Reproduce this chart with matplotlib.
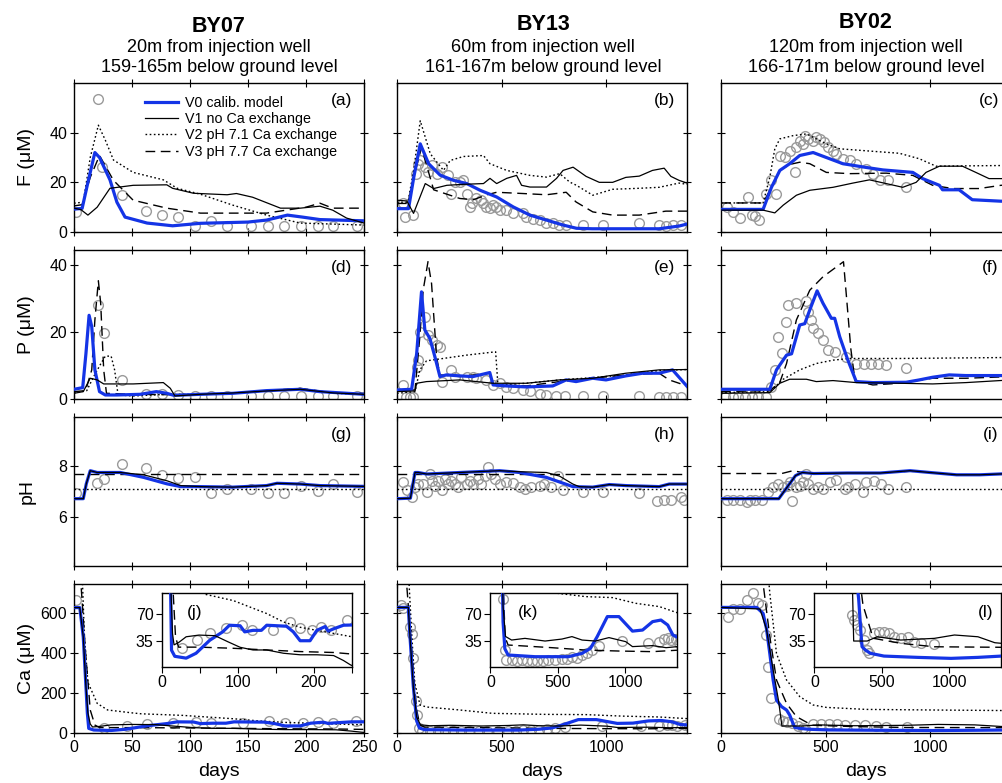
import numpy as np
import matplotlib.pyplot as plt

plt.rcParams['font.family'] = ['Liberation Sans', 'DejaVu Sans']

# ---- data: (day, value) pairs ----
# BY07 (20 m) -----------------------------------------------------
f07_v0 = [(0, 9.2), (7, 9.5), (12, 20), (18, 32), (22, 30), (31, 21), (37, 12), (44, 6), (63, 3.6),
          (85, 2.5), (109, 3.5), (150, 4), (166, 4.8), (184, 6.8), (197, 6), (212, 5), (250, 4.5)]
f07_v1 = [(0, 9.6), (6, 9), (12, 6.8), (20, 10), (31, 17.6), (51, 18.8), (80, 19), (85, 17.6), (103, 15.6),
          (132, 15), (140, 15.5), (154, 14), (178, 9.6), (195, 9.6), (212, 10.4), (223, 8.8), (235, 5.6), (250, 3.6)]
f07_v2 = [(0, 11.6), (8, 12), (14, 30), (21, 43), (27, 37), (34, 29), (51, 24), (77, 21), (89, 17.6),
          (109, 15.2), (137, 10.8), (166, 6.8), (195, 3.6), (250, 2.8)]
f07_v3 = [(0, 10.5), (7, 11), (14, 22), (22, 30.8), (34, 20.8), (51, 12.8), (80, 9.6), (109, 7.6),
          (166, 7.6), (200, 10), (212, 11.6), (223, 9.6), (250, 9.6)]
f07_obs = [(2, 8), (21, 53.5), (24, 26), (41, 15), (62, 8.4), (76, 7), (90, 6), (104, 2.4), (118, 4.4),
           (132, 2.5), (153, 2.5), (167, 2.5), (181, 2.5), (196, 2.4), (210, 2.4), (223, 2.4), (244, 2.4)]

p07_v0 = [(0, 2.9), (7.5, 3.4), (10.3, 13.6), (13, 25), (15.3, 21.6), (18, 8.7), (22, 2.2), (27, 1.2),
          (37, 1.2), (57, 1.4), (71, 2.2), (80, 1.7), (86, 1.1), (109, 1.4), (137, 1.7), (166, 2.5),
          (195, 2.9), (212, 2.2), (250, 1.4)]
p07_v1 = [(0, 1.7), (8, 2.2), (14, 6.2), (20, 5.7), (25.6, 4.5), (51, 4.5), (77, 4.9), (83, 3.2),
          (87, 0.9), (109, 1.4), (137, 1.8), (166, 2.4), (195, 2.9), (224, 1.8), (250, 1.4)]
p07_v2 = [(0, 1.8), (11, 2.5), (17, 6.7), (22.4, 10.1), (27, 12.8), (32, 12.8), (35, 8.7), (38, 1.2),
          (51, 0.9), (80, 1.4), (109, 1.4), (137, 1.8), (166, 2.4), (195, 3.1), (224, 1.7), (250, 1.4)]
p07_v3 = [(0, 2.2), (10, 2.5), (15.3, 8.7), (18, 23.6), (21, 35.3), (23, 28.6), (25.6, 8.7), (28, 1.7),
          (51, 1.4), (80, 1.3), (109, 1.4), (137, 1.8), (166, 2.5), (195, 3.2), (224, 1.8), (250, 1.7)]
p07_obs = [(21, 28), (26, 19.6), (41, 5.7), (62, 1.5), (76, 1.5), (90, 1.2), (104, 0.9), (118, 0.9),
           (132, 0.9), (153, 0.9), (167, 0.9), (181, 0.9), (196, 0.9), (210, 0.9), (223, 0.9), (244, 0.9)]

ph07_v0 = [(0, 6.72), (8, 6.72), (10.6, 7.3), (14, 7.81), (20, 7.74), (40, 7.74), (60, 7.55), (80, 7.3),
           (92, 7.19), (109, 7.19), (137, 7.17), (166, 7.23), (175, 7.32), (195, 7.29), (212, 7.23), (250, 7.2)]
ph07_v1 = [(0, 6.72), (8, 6.72), (10.6, 7.3), (14, 7.81), (20, 7.74), (40, 7.74), (60, 7.65), (80, 7.42),
           (92, 7.23), (109, 7.19), (137, 7.17), (166, 7.23), (175, 7.32), (195, 7.29), (212, 7.23), (250, 7.2)]
ph07_v2 = [(0, 7.1), (250, 7.1)]
ph07_v3 = [(0, 7.7), (250, 7.7)]
ph07_obs = [(2, 6.94), (20, 7.33), (26, 7.49), (41, 8.06), (62, 7.91), (76, 7.65), (90, 7.53), (104, 7.55),
            (118, 6.95), (132, 7.1), (153, 7.1), (167, 6.94), (181, 6.94), (196, 7.23), (210, 7.01),
            (223, 7.3), (244, 6.97)]

ca07_v0 = [(0, 627), (5, 627), (8, 480), (10.3, 232), (11.5, 100), (12.7, 23), (17, 15), (32, 12.6),
           (45, 19), (63, 36), (80, 47), (89, 55.7), (103, 55), (109, 47), (120, 49), (131, 49), (138, 55.7),
           (164, 54.4), (173, 47), (182, 35.4), (195, 35.4), (204, 49), (215, 54), (219, 48), (226, 51),
           (239, 55.7), (250, 56)]
ca07_v1 = [(0, 627), (5, 627), (8, 480), (10.3, 232), (12, 100), (14, 45), (16, 30), (22, 33), (32, 40.6),
           (49, 42.8), (70, 42), (87, 34), (103, 26.8), (120, 23.3), (138, 23.3), (160, 19), (182, 17),
           (204, 17), (226, 16), (239, 9.5), (248, 3.9), (250, 3)]
ca07_v2 = [(0, 950), (7, 800), (9, 480), (12, 253), (20, 148), (29, 115), (51, 100), (58, 96), (94, 88),
           (138, 71), (160, 60), (182, 53), (204, 49), (226, 45), (250, 40.6)]
ca07_v3 = [(0, 950), (6, 745), (10, 400), (14, 115), (18, 40), (22, 27), (49, 27), (94, 25.5), (138, 23.3),
           (182, 21.2), (226, 20), (250, 18)]
ca07_obs = [(2, 665), (26, 25.5), (46, 36), (63, 45), (85, 51.5), (105, 55.7), (118, 49), (146, 49),
            (168, 60), (182, 51.5), (197, 49), (210, 53.5), (223, 49), (243, 62)]

# BY13 (60 m) -----------------------------------------------------
f13_v0 = [(0, 9.4), (55, 9.4), (80, 22), (111, 35.5), (151, 27.5), (206, 22.9), (270, 20.8), (333, 19.5),
          (397, 16.8), (476, 14.1), (555, 10.1), (635, 6.8), (714, 4.8), (793, 2.8), (857, 1.5), (933, 1.3),
          (1252, 1.3), (1347, 2.4), (1385, 3.2)]
f13_v1 = [(0, 12.8), (47, 12.5), (79, 7.5), (135, 19.5), (175, 17.5), (238, 18.8), (317, 19.2), (413, 19.5),
          (444, 21.6), (476, 19.5), (524, 21.6), (571, 22.8), (595, 18.8), (635, 18.1), (714, 18.1),
          (762, 21.6), (793, 24.8), (841, 26.1), (903, 22.4), (966, 20), (1030, 20), (1093, 22), (1157, 22.5),
          (1220, 24.8), (1276, 25.7), (1308, 22.4), (1347, 20.8), (1385, 19.7)]
f13_v2 = [(0, 12), (52, 12), (80, 25), (111, 44.8), (159, 31.5), (222, 24.8), (254, 28.8), (317, 30.4),
          (413, 30.8), (444, 27.5), (524, 24.8), (635, 22.8), (714, 22.1), (777, 23.5), (825, 20.1),
          (857, 18.8), (935, 14.8), (1030, 17.2), (1157, 17.6), (1252, 18), (1347, 19.7), (1385, 19.2)]
f13_v3 = [(0, 11.5), (52, 11.5), (80, 22), (117, 34), (175, 17), (300, 13.5), (365, 13), (430, 15),
          (476, 16), (600, 15.5), (714, 15), (808, 16), (855, 12.1), (935, 8.1), (1030, 6.8), (1157, 6.8),
          (1284, 8.4), (1385, 8.4)]
f13_obs = [(30, 11.5), (38, 6.1), (78, 6.8), (90, 23.5), (101, 27.5), (109, 29), (133, 26), (149, 24),
           (165, 26.8), (189, 23.5), (213, 26), (244, 22.8), (260, 15.5), (276, 20), (300, 20), (316, 20.8),
           (332, 15.5), (347, 10), (356, 11.5), (379, 13.5), (403, 12.8), (411, 11.5), (427, 10), (443, 9.5),
           (459, 10.8), (474, 10), (490, 8.8), (522, 8.8), (554, 7.5), (601, 7.5), (617, 6.1), (649, 5.1),
           (681, 4.8), (712, 3.7), (744, 3.5), (776, 2.8), (808, 2.8), (887, 2.8), (982, 2.8), (1157, 3.7),
           (1252, 2.8), (1284, 2.4), (1316, 2.8), (1355, 2.8)]

p13_v0 = [(0, 2.7), (70, 2.9), (94, 13.6), (117, 32), (133, 20.6), (157, 18.1), (181, 12.6), (205, 6.7),
          (236, 7.2), (300, 6.9), (363, 6.7), (443, 7.9), (459, 4.2), (522, 3.9), (617, 3.6), (744, 3.9),
          (808, 5.7), (855, 5.2), (935, 6.2), (998, 5.7), (1093, 6.9), (1173, 7.7), (1252, 7.7), (1316, 8.7),
          (1347, 6.5), (1385, 3.8)]
p13_v1 = [(0, 2.2), (86, 2.4), (94, 4.7), (141, 5.2), (300, 5.7), (459, 4.7), (617, 4.7), (776, 5.7),
          (935, 6.2), (1093, 7.7), (1252, 8.7), (1385, 8.8)]
p13_v2 = [(0, 1.7), (86, 2.2), (109, 8.7), (141, 11.4), (220, 12.1), (332, 13.1), (471, 14.1), (482, 4.2),
          (617, 4.7), (776, 5.7), (935, 6.4), (1093, 7.2), (1252, 8.5), (1385, 8.8)]
p13_v3 = [(0, 2.5), (86, 2.7), (109, 18.6), (125, 32.5), (148, 41), (165, 34.5), (189, 12.6), (205, 7.2),
          (300, 6.7), (443, 7.7), (459, 4.2), (617, 3.9), (776, 5.2), (935, 6.2), (1093, 7.2), (1252, 7.7),
          (1300, 5.7), (1385, 3.9)]
p13_obs = [(30, 4.2), (45, 0.6), (60, 0.5), (78, 0.7), (94, 9.6), (101, 11.6), (109, 20.1), (133, 24.6),
           (149, 19.1), (165, 17.6), (189, 16.1), (205, 15.6), (213, 5.2), (260, 8.7), (276, 6.7), (332, 6.7),
           (363, 6.7), (379, 6.2), (427, 5.7), (459, 4.2), (490, 4.7), (522, 3.7), (554, 3.2), (601, 2.7),
           (633, 2.5), (681, 1.5), (712, 1.2), (760, 0.9), (800, 0.9), (887, 0.9), (982, 0.9), (1157, 0.9),
           (1252, 0.5), (1284, 0.5), (1316, 0.5), (1355, 0.5)]

ph13_v0 = [(0, 6.72), (64, 6.74), (86, 7.74), (101, 7.74), (141, 7.68), (300, 7.74), (490, 7.81), (586, 7.74),
           (713, 7.55), (840, 7.19), (935, 7.17), (1014, 7.27), (1093, 7.23), (1252, 7.19), (1300, 7.29),
           (1385, 7.29)]
ph13_v1 = [(0, 6.72), (64, 6.74), (86, 7.74), (101, 7.74), (141, 7.68), (300, 7.74), (490, 7.81), (586, 7.77),
           (713, 7.74), (776, 7.6), (840, 7.29), (870, 7.19), (935, 7.17), (1014, 7.27), (1093, 7.23),
           (1252, 7.19), (1300, 7.29), (1385, 7.29)]
ph13_v2 = [(0, 7.1), (1385, 7.1)]
ph13_v3 = [(0, 7.7), (1385, 7.7)]
ph13_obs = [(30, 7.36), (46, 7.04), (70, 6.78), (86, 7.17), (101, 7.3), (125, 7.3), (141, 6.97), (157, 7.7),
            (165, 7.42), (181, 7.23), (197, 7.42), (213, 7.04), (228, 7.49), (244, 7.3), (260, 7.42),
            (276, 7.3), (292, 7.17), (308, 7.55), (332, 7.3), (347, 7.42), (363, 7.3), (387, 7.49), (403, 7.3),
            (419, 7.62), (435, 7.94), (451, 7.68), (466, 7.49), (490, 7.3), (522, 7.36), (554, 7.32),
            (586, 7.19), (609, 7.1), (641, 7.17), (681, 7.23), (704, 7.3), (736, 7.17), (768, 7.62),
            (792, 7.04), (887, 6.97), (982, 6.97), (1157, 6.94), (1244, 6.63), (1276, 6.65), (1308, 6.68),
            (1355, 6.78), (1371, 6.65)]

ca13_v0 = [(0, 628), (54, 628), (62, 482), (78, 232), (94, 60), (107, 25), (131, 16.7), (331, 14.5),
           (579, 14.5), (679, 18.9), (741, 25.4), (791, 40.8), (866, 67), (952, 67), (1052, 48), (1127, 49.4),
           (1201, 60.4), (1263, 62.5), (1313, 56), (1351, 43), (1385, 40)]
ca13_v1 = [(0, 628), (54, 628), (62, 482), (78, 232), (94, 80), (112, 41), (157, 36.3), (256, 38.5),
           (405, 35), (530, 37.6), (604, 40.8), (679, 36.3), (778, 35), (878, 39.5), (1002, 34.2), (1052, 27.7),
           (1201, 29), (1301, 26.3), (1385, 27.7)]
ca13_v2 = [(0, 950), (50, 900), (70, 500), (85, 250), (110, 140), (141, 130), (300, 115), (455, 98.4),
           (704, 93.2), (903, 91.9), (1077, 84.4), (1251, 80.1), (1385, 72)]
ca13_v3 = [(0, 950), (46, 745), (78, 315), (94, 115), (109, 40), (131, 29.8), (455, 26.3), (704, 23.2),
           (952, 21.9), (1201, 21.1), (1385, 23)]
ca13_obs = [(20, 640), (30, 625), (62, 530), (70, 495), (75, 375), (90, 160), (95, 90), (107, 23), (119, 10),
            (157, 10), (194, 9), (231, 10), (269, 9), (306, 9), (343, 9), (393, 9), (430, 10), (480, 10),
            (530, 12), (567, 11), (604, 14.5), (642, 13), (679, 17), (716, 19), (754, 23), (803, 28), (978, 35),
            (1164, 33), (1251, 34), (1288, 38), (1313, 39), (1338, 36), (1375, 38), (1395, 33)]

# BY02 (120 m) ----------------------------------------------------
f02_v0 = [(0, 9.1), (201, 9.1), (241, 18), (281, 24.8), (328, 27.5), (376, 30.8), (440, 32), (503, 30),
          (582, 27.5), (693, 26), (773, 25), (916, 24), (963, 21.5), (1043, 18.8), (1058, 17), (1137, 17),
          (1200, 13), (1337, 12.4), (1385, 12.4)]
f02_v1 = [(0, 8.8), (201, 8.8), (257, 7.7), (297, 10.8), (360, 14.8), (424, 16.8), (535, 18), (630, 19.7),
          (709, 21), (789, 19.5), (868, 18), (932, 20), (979, 24), (1043, 26.5), (1153, 26.5), (1217, 24),
          (1280, 21.5), (1385, 21.5)]
f02_v2 = [(0, 11.7), (201, 11.7), (233, 22), (257, 33.5), (281, 37.5), (344, 38.8), (408, 39.5), (503, 35.5),
          (567, 33.5), (725, 32.5), (852, 31.7), (947, 29.5), (1027, 26.5), (1137, 26.6), (1385, 26.8)]
f02_v3 = [(0, 11.7), (201, 11.7), (241, 18), (281, 24.8), (328, 27.2), (376, 28.1), (424, 27.5), (503, 24),
          (614, 23.5), (789, 23.7), (916, 22.8), (1011, 18.8), (1106, 17.5), (1233, 17.5), (1337, 18.8),
          (1385, 19)]
f02_obs = [(27, 10.1), (59, 8.1), (90, 5.5), (127, 14.1), (146, 6.8), (162, 6.4), (183, 4.8), (217, 15.5),
           (241, 20.8), (265, 15.5), (281, 30.8), (305, 30.1), (328, 32.8), (352, 24.1), (360, 34.1),
           (376, 36.8), (392, 35.5), (400, 38.8), (416, 37.5), (440, 36.8), (455, 38.1), (471, 37.5),
           (490, 36.1), (511, 34.1), (535, 32.8), (551, 31.5), (582, 29.5), (614, 28.8), (646, 27.5),
           (694, 25.5), (725, 23.5), (757, 20.8), (797, 20.8), (884, 18.1)]

p02_v0 = [(0, 2.9), (233, 2.9), (265, 8.7), (313, 13.1), (337, 13.5), (376, 22.1), (400, 22.5), (424, 26.6),
          (459, 32.3), (487, 28.6), (527, 24.1), (543, 24.1), (567, 18.6), (606, 11.6), (646, 5.2), (725, 4.9),
          (884, 5.0), (947, 5.7), (1011, 6.5), (1090, 7.2), (1170, 7.0), (1385, 7.0)]
p02_v1 = [(0, 1.7), (233, 1.9), (281, 4.7), (328, 5.9), (408, 5.9), (455, 5.2), (535, 5.5), (646, 4.9),
          (852, 4.7), (1011, 4.5), (1170, 4.9), (1385, 5.7)]
p02_v2 = [(0, 1.9), (233, 2.2), (297, 5.9), (376, 8.7), (455, 10.6), (535, 11.6), (614, 12.1), (852, 12.1),
          (1385, 12.4)]
p02_v3 = [(0, 2.2), (233, 2.5), (281, 5.0), (313, 10.6), (360, 23.6), (424, 32.5), (487, 36.5), (585, 41),
          (600, 30), (620, 15), (640, 5.5), (725, 4.2), (852, 4.7), (1011, 6.2), (1170, 6.2), (1385, 6.7)]
p02_obs = [(19, 0.7), (56, 0.7), (83, 0.7), (114, 0.7), (146, 0.7), (178, 0.7), (217, 0.7), (241, 3.7),
           (257, 8.7), (273, 18.6), (289, 13.8), (309, 23.1), (321, 28.1), (360, 28.6), (405, 29.3),
           (416, 26.1), (432, 23.6), (440, 21.1), (463, 19.6), (487, 17.6), (511, 14.6), (543, 14.1),
           (598, 12.6), (646, 10.6), (685, 10.4), (717, 10.4), (749, 10.4), (789, 10.1), (884, 9.2)]

ph02_v0 = [(0, 6.72), (276, 6.72), (316, 7.17), (356, 7.62), (388, 7.74), (443, 7.7), (602, 7.72), (760, 7.72),
           (903, 7.81), (998, 7.74), (1125, 7.65), (1236, 7.65), (1385, 7.7)]
ph02_v1 = [(0, 6.72), (276, 6.72), (316, 7.17), (356, 7.62), (388, 7.74), (443, 7.7), (602, 7.72), (760, 7.72),
           (903, 7.81), (998, 7.74), (1125, 7.65), (1236, 7.65), (1385, 7.7)]
ph02_v2 = [(0, 7.1), (1385, 7.1)]
ph02_v3 = [(0, 7.7), (290, 7.7), (344, 7.81), (388, 7.74), (443, 7.7), (602, 7.72), (760, 7.72), (903, 7.79),
           (998, 7.74), (1125, 7.65), (1236, 7.65), (1385, 7.7)]
ph02_obs = [(27, 6.65), (59, 6.65), (90, 6.65), (122, 6.59), (138, 6.65), (162, 6.68), (194, 6.65),
            (225, 6.97), (249, 7.17), (273, 7.3), (297, 7.17), (313, 7.23), (328, 7.36), (341, 6.62),
            (360, 7.17), (376, 7.23), (392, 7.36), (405, 7.68), (416, 7.3), (440, 7.1), (463, 7.17), (487, 7.1),
            (519, 7.36), (551, 7.45), (590, 7.1), (606, 7.17), (638, 7.3), (678, 6.97), (694, 7.36), (733, 7.42),
            (765, 7.3), (797, 7.1), (884, 7.19)]

ca02_v0 = [(0, 628), (170, 628), (201, 598), (217, 523), (233, 398), (249, 265), (265, 165), (289, 132),
           (313, 115), (328, 90), (345, 45), (353, 27.5), (378, 23.2), (415, 18.9), (515, 15.3), (764, 13.6),
           (1012, 12.3), (1211, 13.6), (1385, 15.3)]
ca02_v1 = [(0, 628), (186, 620), (217, 520), (249, 315), (275, 160), (291, 35), (391, 35), (465, 40.6),
           (639, 36.3), (888, 38.5), (1037, 42.9), (1211, 40.6), (1336, 32.8), (1385, 32)]
ca02_v2 = [(0, 950), (217, 900), (233, 700), (265, 398), (313, 265), (376, 182), (440, 140), (503, 128),
           (693, 118), (1011, 115), (1385, 112)]
ca02_v3 = [(0, 950), (190, 900), (201, 748), (233, 482), (265, 265), (313, 148), (360, 82), (424, 45),
           (440, 38.5), (639, 32), (888, 27.5), (1385, 26.8)]
ca02_obs = [(35, 582), (59, 618), (90, 618), (122, 665), (154, 702), (178, 648), (194, 638), (215, 490),
            (225, 332), (241, 173), (279, 69), (296, 62.5), (316, 56), (341, 49.4), (366, 36.3), (391, 23.2),
            (403, 18.9), (440, 45.1), (478, 47.2), (515, 47.2), (552, 45.1), (590, 40.6), (640, 38.5),
            (690, 40.6), (739, 34.1), (789, 32), (888, 31.1)]

wells = ['BY07', 'BY13', 'BY02']
well_dist = ['20m from injection well', '60m from injection well', '120m from injection well']
well_depth = ['159-165m below ground level', '161-167m below ground level', '166-171m below ground level']
row_labels = ['F (\u03bcM)', 'P (\u03bcM)', 'pH', 'Ca (\u03bcM)']
model_names = ['V0 calib. model', 'V1 no Ca exchange', 'V2 pH 7.1 Ca exchange', 'V3 pH 7.7 Ca exchange']
panel_tags = ['(a)', '(b)', '(c)', '(d)', '(e)', '(f)', '(g)', '(h)', '(i)']
inset_tags = ['(j)', '(k)', '(l)']

series = [
    [(f07_v0, f07_v1, f07_v2, f07_v3, f07_obs), (f13_v0, f13_v1, f13_v2, f13_v3, f13_obs),
     (f02_v0, f02_v1, f02_v2, f02_v3, f02_obs)],
    [(p07_v0, p07_v1, p07_v2, p07_v3, p07_obs), (p13_v0, p13_v1, p13_v2, p13_v3, p13_obs),
     (p02_v0, p02_v1, p02_v2, p02_v3, p02_obs)],
    [(ph07_v0, ph07_v1, ph07_v2, ph07_v3, ph07_obs), (ph13_v0, ph13_v1, ph13_v2, ph13_v3, ph13_obs),
     (ph02_v0, ph02_v1, ph02_v2, ph02_v3, ph02_obs)],
    [(ca07_v0, ca07_v1, ca07_v2, ca07_v3, ca07_obs), (ca13_v0, ca13_v1, ca13_v2, ca13_v3, ca13_obs),
     (ca02_v0, ca02_v1, ca02_v2, ca02_v3, ca02_obs)],
]

ylims = [(0, 60), (0, 44.5), (4.1, 9.9), (0, 745)]
yticks = [[0, 20, 40], [0, 20, 40], [6, 8], [0, 200, 400, 600]]
xlims = [(0, 250), (0, 1385), (0, 1385)]
xticks = [[0, 50, 100, 150, 200, 250], [0, 500, 1000], [0, 500, 1000]]

BLUE = '#1434e6'
styles = [dict(color=BLUE, lw=2.3, zorder=4),
          dict(color='black', lw=0.9, zorder=5),
          dict(color='black', lw=1.0, ls=(0, (1.2, 1.8)), zorder=3),
          dict(color='black', lw=1.0, ls=(0, (7, 4)), zorder=3)]
obs_style = dict(ls='none', marker='o', ms=7, mfc='none', mec='#9a9a9a', mew=1.0, zorder=2)


def draw(ax, data):
    lines = []
    d, v = np.array(data[4]).T
    ax.plot(d, v, **obs_style)
    for k in range(4):
        d, v = np.array(data[k]).T
        ln, = ax.plot(d, v, **styles[k])
        lines.append(ln)
    return lines


W, H = 1002, 783
fig = plt.figure(figsize=(W / 100, H / 100), dpi=100)
col_left = [74, 397, 721]
row_bottom = [232, 399, 566, 733]

for r in range(4):
    for c in range(3):
        ax = fig.add_axes([col_left[c] / W, 1 - row_bottom[r] / H, 290 / W, 149 / H])
        lines = draw(ax, series[r][c])
        ax.set_xlim(*xlims[c])
        ax.set_ylim(*ylims[r])
        ax.set_xticks(xticks[c])
        ax.set_yticks(yticks[r])
        ax.tick_params(direction='inout', length=6, width=0.8, top=True, right=True,
                       labelsize=11.5, pad=2)
        for s in ax.spines.values():
            s.set_linewidth(1.0)
        if r < 3:
            ax.set_xticklabels([])
            ax.text(0.958, 0.88, panel_tags[r * 3 + c], transform=ax.transAxes,
                    ha='right', va='center', fontsize=12.5)
        else:
            ax.set_xlabel('days', fontsize=14)
            ax.xaxis.set_label_coords(0.5, -0.2)
        if c == 0:
            ax.set_ylabel(row_labels[r], fontsize=14)
            ax.yaxis.set_label_coords(-0.133, 0.5)
        else:
            ax.set_yticklabels([])
        if r == 0 and c == 0:
            ax.legend(lines, model_names, loc='upper left', bbox_to_anchor=(0.225, 0.95),
                      frameon=False, fontsize=10.3, handlelength=2.3, handletextpad=0.5,
                      labelspacing=0.15, borderaxespad=0)
        if r == 3:
            ins = ax.inset_axes([0.303 if c == 0 else 0.322, 0.443, 0.655 if c == 0 else 0.645, 0.497])
            draw(ins, series[r][c])
            ins.set_xlim(*xlims[c])
            ins.set_ylim(1, 98)
            ins.set_yticks([35, 70])
            if c == 0:
                ins.set_xticks(xticks[0])
                ins.set_xticklabels(['0', '', '100', '', '200', ''])
            else:
                ins.set_xticks(xticks[c])
            ins.tick_params(direction='out', length=4, width=0.8, labelsize=11.5, pad=2)
            for s in ins.spines.values():
                s.set_linewidth(1.0)
            if c == 2:
                ins.text(0.955, 0.74, inset_tags[c], transform=ins.transAxes,
                         ha='right', va='center', fontsize=12.5)
            else:
                ins.text(0.13 if c == 0 else 0.147, 0.74, inset_tags[c], transform=ins.transAxes,
                         ha='left', va='center', fontsize=12.5)

col_center = [219, 543, 866]
title_y = [27, 25, 22]
for c in range(3):
    fig.text(col_center[c] / W, 1 - title_y[c] / H, wells[c], ha='center', va='center',
             fontsize=15.5, fontweight='bold')
    fig.text(col_center[c] / W, 1 - 47 / H, well_dist[c], ha='center', va='center', fontsize=13)
    fig.text(col_center[c] / W, 1 - 68 / H, well_depth[c], ha='center', va='center', fontsize=13)

fig.savefig('out.png', dpi=100, facecolor='white')
